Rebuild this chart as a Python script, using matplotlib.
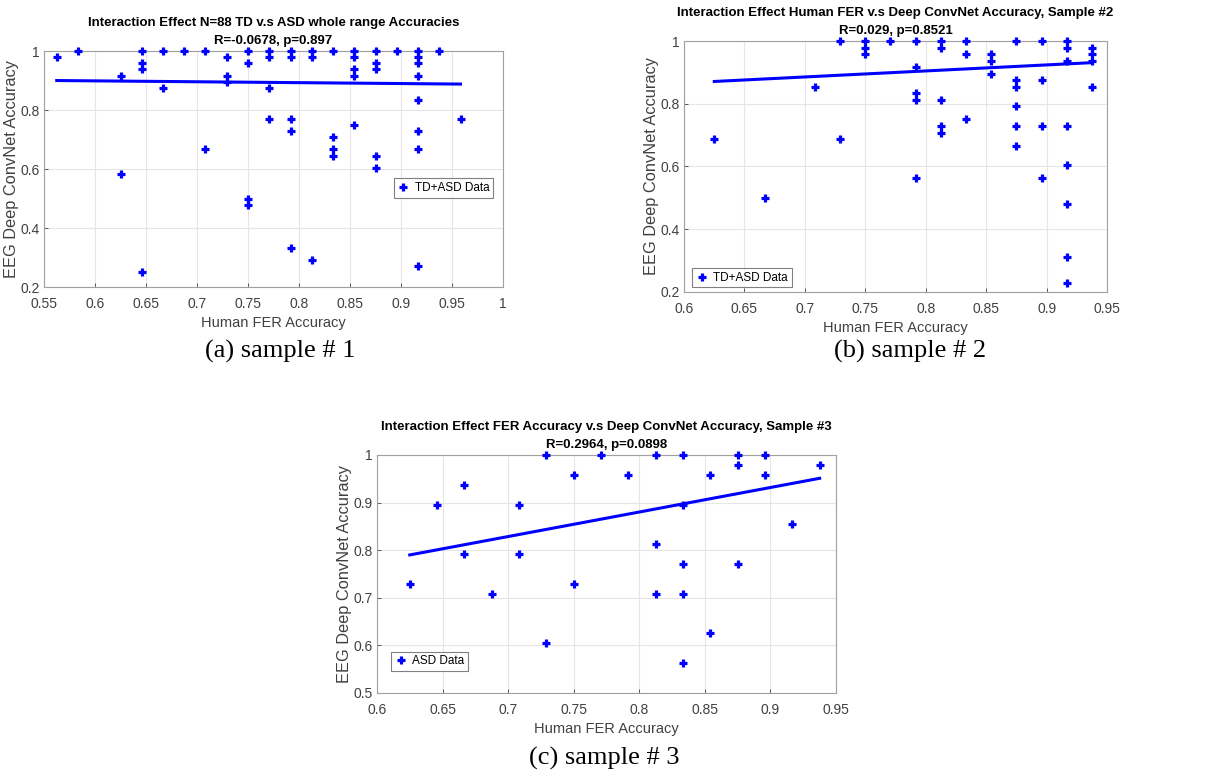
import matplotlib
matplotlib.use("Agg")
import matplotlib.pyplot as plt
from matplotlib import font_manager

# datos (x = Human FER, y = EEG ConvNet)
xa = [0.5625, 0.5833, 0.625, 0.625, 0.6458, 0.6458, 0.6458, 0.6458, 0.6667, 0.6667,
      0.6875, 0.7083, 0.7083, 0.7292, 0.7292, 0.7292, 0.75, 0.75, 0.75, 0.75,
      0.7708, 0.7708, 0.7708, 0.7708, 0.7917, 0.7917, 0.7917, 0.7917, 0.7917,
      0.8125, 0.8125, 0.8125, 0.8333, 0.8333, 0.8333, 0.8333,
      0.8542, 0.8542, 0.8542, 0.8542, 0.8542, 0.875, 0.875, 0.875, 0.875, 0.875,
      0.8958, 0.9167, 0.9167, 0.9167, 0.9167, 0.9167, 0.9167, 0.9167, 0.9167,
      0.9375, 0.9583]
ya = [0.9792, 1.0, 0.9167, 0.5833, 1.0, 0.9583, 0.9375, 0.25, 1.0, 0.875,
      1.0, 1.0, 0.6667, 0.9792, 0.9167, 0.8958, 1.0, 0.9583, 0.5, 0.4792,
      1.0, 0.9792, 0.875, 0.7708, 1.0, 0.9792, 0.7708, 0.7292, 0.3333,
      1.0, 0.9792, 0.2917, 1.0, 0.7083, 0.6667, 0.6458,
      1.0, 0.9792, 0.9375, 0.9167, 0.75, 1.0, 0.9583, 0.9375, 0.6458, 0.6042,
      1.0, 1.0, 0.9792, 0.9583, 0.9167, 0.8333, 0.7292, 0.6667, 0.2708,
      1.0, 0.7708]
fit_xa = [0.5625, 0.9583]
fit_ya = [0.900, 0.888]

xb = [0.625, 0.6667, 0.7083, 0.7292, 0.7292, 0.75, 0.75, 0.75, 0.7708,
      0.7917, 0.7917, 0.7917, 0.7917, 0.7917, 0.8125, 0.8125, 0.8125, 0.8125, 0.8125,
      0.8333, 0.8333, 0.8333, 0.8542, 0.8542, 0.8542,
      0.875, 0.875, 0.875, 0.875, 0.875, 0.875, 0.8958, 0.8958, 0.8958, 0.8958,
      0.9167, 0.9167, 0.9167, 0.9167, 0.9167, 0.9167, 0.9167, 0.9167,
      0.9375, 0.9375, 0.9375, 0.9375]
yb = [0.6875, 0.5, 0.8542, 1.0, 0.6875, 1.0, 0.9792, 0.9583, 1.0,
      1.0, 0.9167, 0.8333, 0.8125, 0.5625, 1.0, 0.9792, 0.8125, 0.7292, 0.7083,
      1.0, 0.9583, 0.75, 0.9583, 0.9375, 0.8958,
      1.0, 0.875, 0.8542, 0.7917, 0.7292, 0.6667, 1.0, 0.875, 0.7292, 0.5625,
      1.0, 0.9792, 0.9375, 0.7292, 0.6042, 0.4792, 0.3125, 0.2292,
      0.9792, 0.9583, 0.9375, 0.8542]
fit_xb = [0.625, 0.9375]
fit_yb = [0.871, 0.931]

xc = [0.625, 0.6458, 0.6667, 0.6667, 0.6875, 0.7083, 0.7083, 0.7292, 0.7292,
      0.75, 0.75, 0.7708, 0.7917, 0.8125, 0.8125, 0.8125,
      0.8333, 0.8333, 0.8333, 0.8333, 0.8333, 0.8542, 0.8542,
      0.875, 0.875, 0.875, 0.8958, 0.8958, 0.9167, 0.9375]
yc = [0.7292, 0.8958, 0.9375, 0.7917, 0.7083, 0.8958, 0.7917, 1.0, 0.6042,
      0.9583, 0.7292, 1.0, 0.9583, 1.0, 0.8125, 0.7083,
      1.0, 0.8958, 0.7708, 0.7083, 0.5625, 0.9583, 0.625,
      1.0, 0.9792, 0.7708, 1.0, 0.9583, 0.8542, 0.9792]
fit_xc = [0.625, 0.9375]
fit_yc = [0.790, 0.951]

titulos = ["Interaction Effect N=88 TD v.s ASD whole range Accuracies\nR=-0.0678, p=0.897",
           "Interaction Effect Human FER v.s Deep ConvNet Accuracy, Sample #2\nR=0.029, p=0.8521",
           "Interaction Effect FER Accuracy v.s Deep ConvNet Accuracy, Sample #3\nR=0.2964, p=0.0898"]
leyendas = ["TD+ASD Data", "TD+ASD Data", "ASD Data"]
captions = ["(a) sample # 1", "(b) sample # 2", "(c) sample # 3"]

nombres = [f.name for f in font_manager.fontManager.ttflist]
sans = "Liberation Sans Narrow" if "Liberation Sans Narrow" in nombres else "Liberation Sans"
plt.rcParams['font.family'] = [sans, 'DejaVu Sans']

fig = plt.figure(figsize=(12.09, 7.78), dpi=100)
ax1 = fig.add_axes([0.0364, 0.6311, 0.3797, 0.3033])
ax2 = fig.add_axes([0.5658, 0.6247, 0.3499, 0.3226])
ax3 = fig.add_axes([0.3118, 0.1093, 0.3797, 0.3059])

datos = [(ax1, xa, ya, fit_xa, fit_ya), (ax2, xb, yb, fit_xb, fit_yb), (ax3, xc, yc, fit_xc, fit_yc)]
for i, (ax, x, y, fx, fy) in enumerate(datos):
    ax.plot(x, y, linestyle='none', marker='+', markersize=6, color='#0000ff',
            markeredgewidth=2.3, label=leyendas[i], clip_on=False, zorder=3)
    ax.plot(fx, fy, color='#0000ff', linewidth=2.2, zorder=3)
    ax.grid(True, color='#e6e6e6', linewidth=0.8)
    ax.set_axisbelow(True)
    for s in ax.spines.values():
        s.set_color('#a0a0a0')
        s.set_linewidth(0.8)
    ax.tick_params(colors='#404040', labelsize=10, length=3, width=0.6, direction='in')
    ax.tick_params(axis='x', pad=7)
    ax.tick_params(axis='y', pad=3)
    ax.set_title(titulos[i], fontsize=9.5, fontweight='bold', pad=5, linespacing=1.7)
    ax.set_xlabel("Human FER Accuracy", fontsize=10.5, color='#404040', labelpad=4)
    ax.set_ylabel("EEG Deep ConvNet Accuracy", fontsize=11.8, color='#404040', labelpad=1)

ax1.set_xlim(0.55, 1.0)
ax1.set_ylim(0.2, 1.0)
ax1.set_xticks([0.55, 0.6, 0.65, 0.7, 0.75, 0.8, 0.85, 0.9, 0.95, 1.0])
ax1.set_xticklabels(["0.55", "0.6", "0.65", "0.7", "0.75", "0.8", "0.85", "0.9", "0.95", "1"])
ax1.set_yticks([0.2, 0.4, 0.6, 0.8, 1.0])
ax1.set_yticklabels(["0.2", "0.4", "0.6", "0.8", "1"])

ax2.set_xlim(0.6, 0.95)
ax2.set_ylim(0.2, 1.0)
ax2.set_xticks([0.6, 0.65, 0.7, 0.75, 0.8, 0.85, 0.9, 0.95])
ax2.set_xticklabels(["0.6", "0.65", "0.7", "0.75", "0.8", "0.85", "0.9", "0.95"])
ax2.set_yticks([0.2, 0.4, 0.6, 0.8, 1.0])
ax2.set_yticklabels(["0.2", "0.4", "0.6", "0.8", "1"])

ax3.set_xlim(0.6, 0.95)
ax3.set_ylim(0.5, 1.0)
ax3.set_xticks([0.6, 0.65, 0.7, 0.75, 0.8, 0.85, 0.9, 0.95])
ax3.set_xticklabels(["0.6", "0.65", "0.7", "0.75", "0.8", "0.85", "0.9", "0.95"])
ax3.set_yticks([0.5, 0.6, 0.7, 0.8, 0.9, 1.0])
ax3.set_yticklabels(["0.5", "0.6", "0.7", "0.8", "0.9", "1"])

# leyendas con las posiciones de la figura original
pos_leg = [(ax1, (0.762, 0.377, 0.194, 0.085)),
           (ax2, (0.019, 0.02, 0.203, 0.072)),
           (ax3, (0.031, 0.097, 0.157, 0.071))]
for ax, bb in pos_leg:
    leg = ax.legend(loc='center left', bbox_to_anchor=bb, fontsize=8.5, frameon=True,
                    fancybox=False, handlelength=1.0, handletextpad=0.5, borderpad=0.3,
                    borderaxespad=0)
    leg.get_frame().set_edgecolor('#606060')
    leg.get_frame().set_linewidth(0.8)

fig.text(0.232, 0.548, captions[0], fontsize=19, family='Liberation Serif', ha='center', va='center')
fig.text(0.753, 0.548, captions[1], fontsize=19, family='Liberation Serif', ha='center', va='center')
fig.text(0.500, 0.025, captions[2], fontsize=19, family='Liberation Serif', ha='center', va='center')

fig.savefig("out.png", dpi=100)
